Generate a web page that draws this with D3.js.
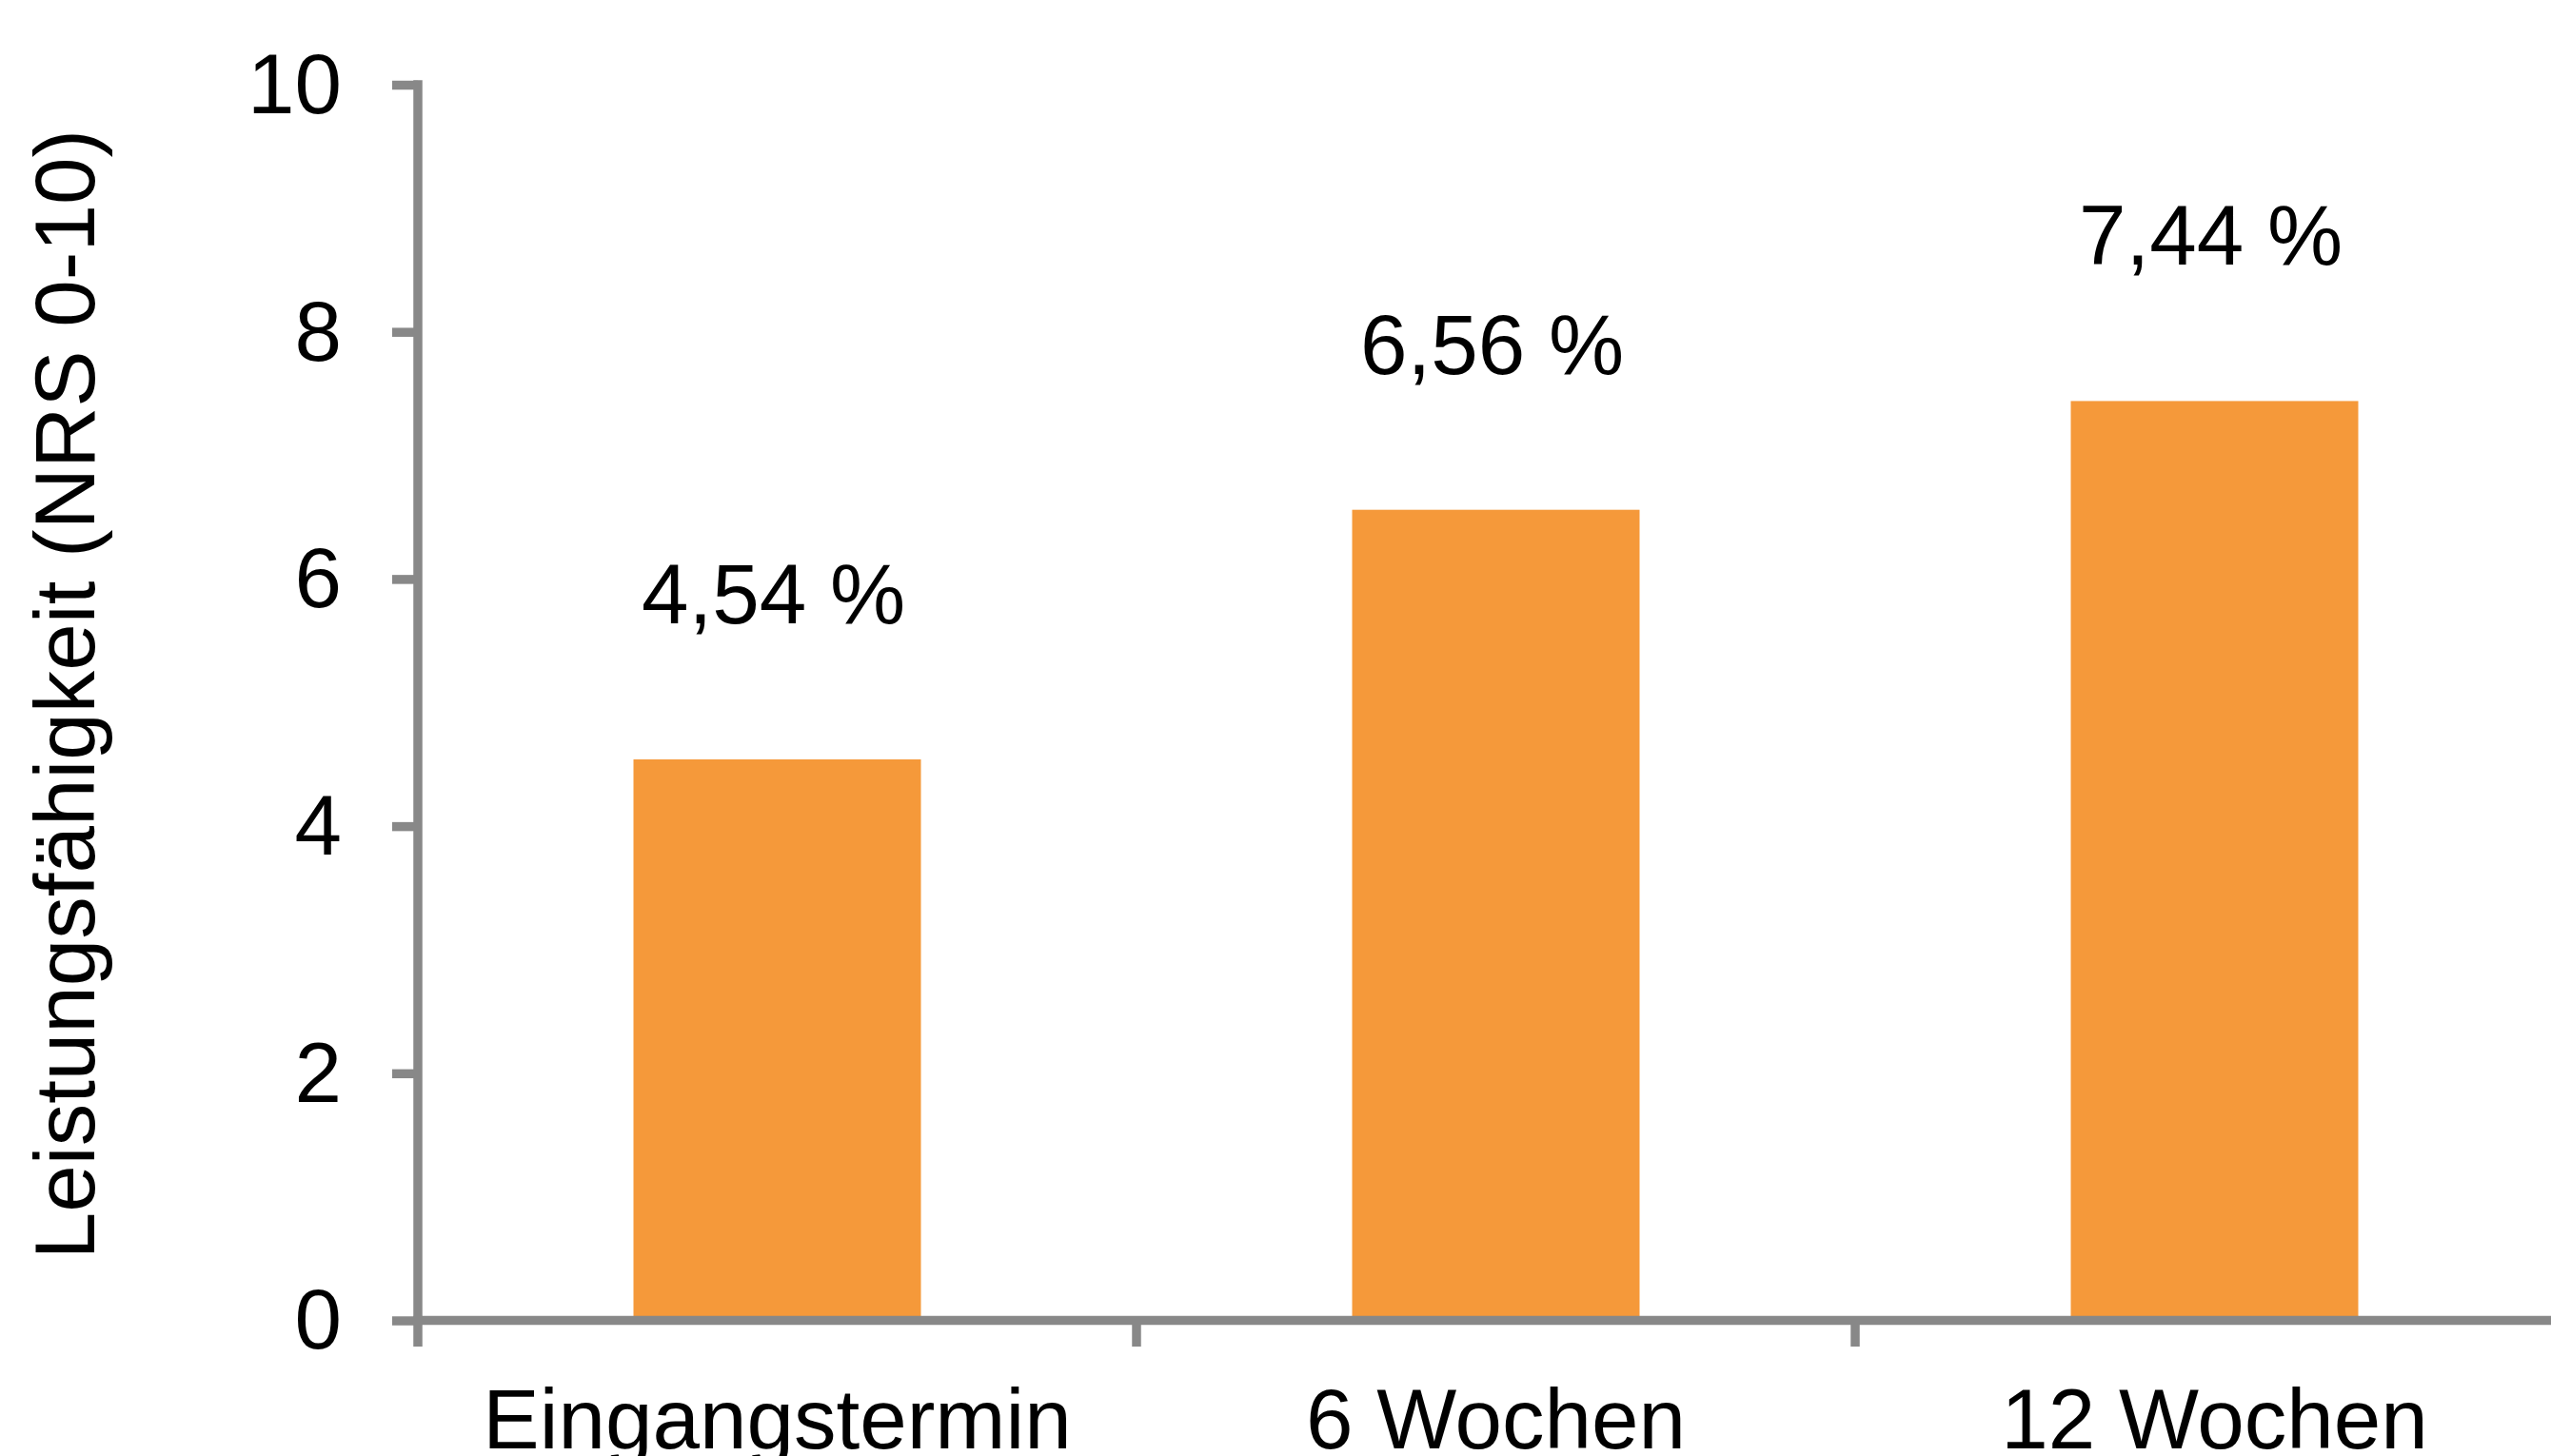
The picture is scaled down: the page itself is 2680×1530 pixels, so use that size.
<!DOCTYPE html>
<html>
<head>
<meta charset="utf-8">
<script src="https://cdn.jsdelivr.net/npm/d3@7"></script>
<style>
  html, body { margin: 0; padding: 0; background: #ffffff; overflow: hidden; }
  svg { display: block; }
  text { font-family: "Liberation Sans", Arial, sans-serif; fill: #000000; }
</style>
</head>
<body>
<svg id="chart" width="2680" height="1530"></svg>
<script>
const categories = ["Eingangstermin", "6 Wochen", "12 Wochen"];
const values = [4.54, 6.56, 7.44];
const valueLabels = ["4,54 %", "6,56 %", "7,44 %"];
const yTicks = [0, 2, 4, 6, 8, 10];
const yTitle = "Leistungsfähigkeit (NRS 0-10)";

const W = 2680, H = 1530;
const axisColor = "#888888";
const barColor = "#F5993A";
const axisWidth = 9.5;
const fontSize = 89;

const svg = d3.select("#chart");

const x = d3.scaleBand()
  .domain(categories)
  .range([439, 2704])
  .paddingInner(0.6)
  .paddingOuter(0.3);

const y = d3.scaleLinear().domain([0, 10]).range([1387.5, 89]);

// bars
svg.append("g").selectAll("rect")
  .data(categories)
  .join("rect")
  .attr("x", d => x(d))
  .attr("width", x.bandwidth())
  .attr("y", (d, i) => y(values[i]))
  .attr("height", (d, i) => y(0) - y(values[i]))
  .attr("fill", barColor);

// value labels
svg.append("g").selectAll("text")
  .data(categories)
  .join("text")
  .attr("x", d => x(d) + x.bandwidth() / 2 - 4)
  .attr("y", (d, i) => y(values[i]) - 143)
  .attr("text-anchor", "middle")
  .attr("font-size", fontSize)
  .text((d, i) => valueLabels[i]);

// y axis
const yAxis = d3.axisLeft(y)
  .tickValues(yTicks)
  .tickSize(27)
  .tickSizeOuter(0)
  .tickPadding(53)
  .tickFormat(d3.format("d"));

const gy = svg.append("g")
  .attr("transform", "translate(439,0)")
  .call(yAxis);
gy.select(".domain").remove();
gy.selectAll(".tick line").attr("stroke", axisColor).attr("stroke-width", axisWidth);
gy.selectAll(".tick text")
  .attr("font-size", fontSize)
  .attr("font-family", "Liberation Sans, Arial, sans-serif")
  .attr("fill", "#000")
  .attr("dy", "0.33em");
gy.append("line")
  .attr("x1", 0).attr("x2", 0)
  .attr("y1", y(10) - axisWidth / 2)
  .attr("y2", 1415)
  .attr("stroke", axisColor)
  .attr("stroke-width", axisWidth);

// x axis
const step = x.step();
const boundaries = categories.map(c => x(c) - step * x.paddingOuter());
boundaries.push(x(categories[categories.length - 1]) + x.bandwidth() + step * x.paddingOuter());

const gx = svg.append("g");
gx.append("line")
  .attr("x1", 439 - axisWidth / 2).attr("x2", W)
  .attr("y1", y(0)).attr("y2", y(0))
  .attr("stroke", axisColor)
  .attr("stroke-width", axisWidth);
gx.selectAll("line.tick")
  .data(boundaries.slice(1))
  .join("line")
  .attr("class", "tick")
  .attr("x1", d => d).attr("x2", d => d)
  .attr("y1", y(0)).attr("y2", 1415)
  .attr("stroke", axisColor)
  .attr("stroke-width", axisWidth);
gx.selectAll("text")
  .data(categories)
  .join("text")
  .attr("x", d => x(d) + x.bandwidth() / 2)
  .attr("y", 1522)
  .attr("text-anchor", "middle")
  .attr("font-size", fontSize)
  .text(d => d);

// y title
svg.append("text")
  .attr("transform", "translate(99,729.5) rotate(-90)")
  .attr("text-anchor", "middle")
  .attr("font-size", fontSize)
  .text(yTitle);
</script>
</body>
</html>
